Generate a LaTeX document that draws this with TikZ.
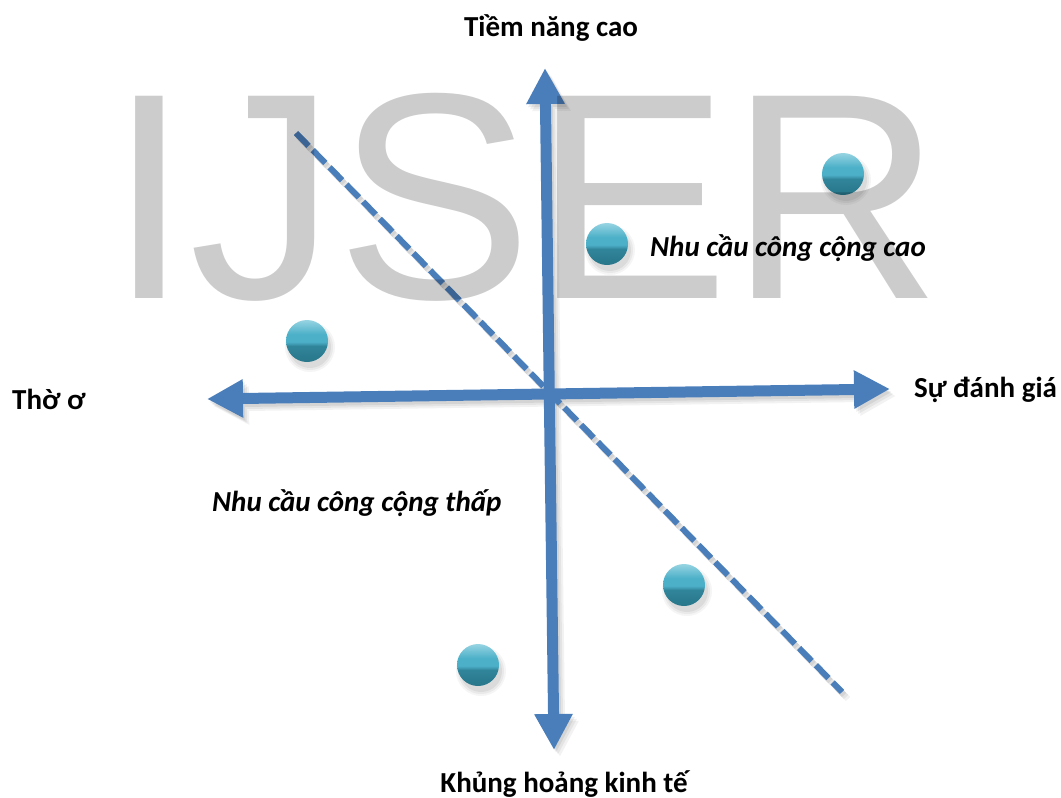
\documentclass[tikz,border=0pt]{standalone}
\usepackage{fontspec}
\setmainfont{Carlito}
\newfontfamily\markfont{Liberation Sans}
\usetikzlibrary{arrows.meta}

\definecolor{axisblue}{RGB}{74,126,187}
\definecolor{balllight}{RGB}{150,212,226}
\definecolor{ballmid}{RGB}{76,176,200}
\definecolor{balldark}{RGB}{40,118,138}

% light top, teal middle, darker lower half
\pgfdeclareverticalshading{ballshade}{100bp}{%
  color(0bp)=(balldark); color(25bp)=(balldark);
  color(44bp)=(balldark!75!ballmid); color(49bp)=(ballmid);
  color(58bp)=(ballmid); color(75bp)=(balllight); color(100bp)=(balllight)}

\tikzset{
  axisline/.style={line width=11pt, draw=axisblue,
    {Triangle[width=36pt,length=36pt]}-{Triangle[width=36pt,length=36pt]}},
  axisshadow/.style={line width=11pt, draw=black,
    {Triangle[width=36pt,length=36pt]}-{Triangle[width=36pt,length=36pt]}},
  splitline/.style={line width=6pt, draw=axisblue, dash pattern=on 18pt off 6pt},
  ball/.style={circle, minimum size=42pt, inner sep=0pt, shade, shading=ballshade},
  lbl/.style={inner sep=0pt, font=\bfseries\fontsize{29}{33}\selectfont},
  ilbl/.style={inner sep=0pt, font=\bfseries\itshape\fontsize{29}{33}\selectfont}
}

\begin{document}
\begin{tikzpicture}[x=1pt,y=-1pt]
\useasboundingbox (0,0) rectangle (1061,798);

% axis end points and the dividing line
\coordinate (vtop) at (545,68);
\coordinate (vbot) at (554,750);
\coordinate (hleft) at (207,399);
\coordinate (hright) at (890,389);
\coordinate (dstart) at (296,133);
\coordinate (dend) at (842,692);

% soft shadows under the lines
\foreach \s/\o in {2/0.07,4/0.06,6/0.05} {
  \begin{scope}[transparency group, opacity=\o]
    \draw[line width=6pt, draw=black, dash pattern=on 18pt off 6pt]
      ([shift={(\s,\s+1)}]dstart) -- ([shift={(\s,\s+1)}]dend);
  \end{scope}
  \begin{scope}[transparency group, opacity=\o]
    \draw[axisshadow] ([shift={(\s,\s+1)}]vbot) -- ([shift={(\s,\s+1)}]vtop);
  \end{scope}
  \begin{scope}[transparency group, opacity=\o]
    \draw[axisshadow] ([shift={(\s,\s+1)}]hleft) -- ([shift={(\s,\s+1)}]hright);
  \end{scope}
}

% dividing line and the two axes
\draw[splitline] (dstart) -- (dend);
\draw[axisline] (vbot) -- (vtop);
\draw[axisline] (hleft) -- (hright);

% points
\foreach \n/\p in {b1/{(843,174)}, b2/{(607,244)}, b3/{(307,341)}, b4/{(684,585)}, b5/{(478,665)}} {
  \foreach \r/\o in {25/0.04,23/0.05,21/0.06} {
    \fill[black, opacity=\o] \p ++(3,6) circle (\r);
  }
  \node[ball] (\n) at \p {};
}

% axis and region labels
\node[lbl, anchor=base] (potential) at (551,36) {Tiềm năng cao};
\node[lbl, anchor=base west] (appraisal) at (914,397) {Sự đánh giá};
\node[lbl, anchor=base west] (apathy) at (12,409) {Thờ ơ};
\node[lbl, anchor=base] (crisis) at (564,792) {Khủng hoảng kinh tế};
\node[ilbl, anchor=base west] (highneed) at (650,256) {Nhu cầu công cộng cao};
\node[ilbl, anchor=base west] (lowneed) at (212,511) {Nhu cầu công cộng thấp};

% translucent lettering over everything
\node[anchor=base west, inner sep=0pt, text=black, text opacity=0.2,
      font=\markfont\fontsize{294}{294}\selectfont] (mark) at (108,298) {IJSER};
\end{tikzpicture}
\end{document}
